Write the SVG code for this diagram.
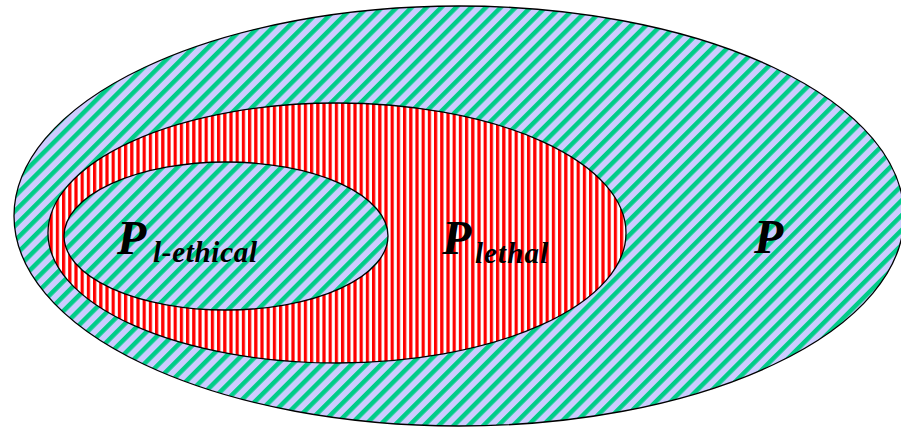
<svg xmlns="http://www.w3.org/2000/svg" width="901" height="430" viewBox="0 0 901 430">
  <defs>
    <pattern id="diag" patternUnits="userSpaceOnUse" width="10.5" height="10.5" patternTransform="rotate(45)">
      <rect x="0" y="0" width="10.5" height="10.5" fill="#ccccff"/>
      <rect x="0" y="0" width="4.5" height="10.5" fill="#00cc88"/>
    </pattern>
    <pattern id="vert" patternUnits="userSpaceOnUse" width="6.2" height="6">
      <rect x="0" y="0" width="6.2" height="6" fill="#ffffff"/>
      <rect x="0" y="0" width="3.2" height="6" fill="#ff0000"/>
    </pattern>
  </defs>
  <style>
    .set { stroke: #000000; stroke-width: 1.3; }
    .big { font-family: "Liberation Serif", "Times New Roman", serif; font-style: italic; font-weight: bold; font-size: 48px; fill: #000000; }
    .sub { font-family: "Liberation Serif", "Times New Roman", serif; font-style: italic; font-weight: bold; font-size: 29px; fill: #000000; }
  </style>
  <rect x="0" y="0" width="901" height="430" fill="#ffffff"/>
  <g id="P">
    <ellipse class="set" cx="459" cy="216" rx="445" ry="210" fill="url(#diag)"/>
    <text class="big" x="754" y="253">P</text>
  </g>
  <g id="P-lethal">
    <ellipse class="set" cx="337" cy="233" rx="289" ry="130" fill="url(#vert)"/>
    <text x="442" y="254"><tspan class="big">P</tspan><tspan class="sub" x="475" y="263" textLength="73">lethal</tspan></text>
  </g>
  <g id="P-l-ethical">
    <ellipse class="set" cx="226" cy="236" rx="162" ry="74" fill="url(#diag)"/>
    <text x="117" y="254"><tspan class="big">P</tspan><tspan class="sub" x="153" y="262" textLength="104">l-ethical</tspan></text>
  </g>
  <g id="connectors"></g>
</svg>
